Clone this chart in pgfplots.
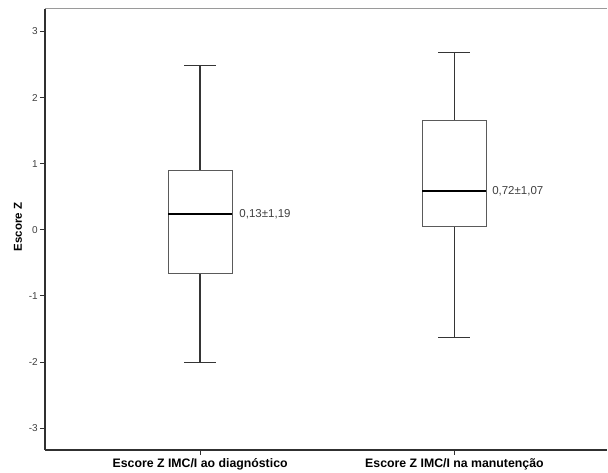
\documentclass[border=0pt]{standalone}
\usepackage{fontspec}
\setmainfont{Liberation Sans}
\usepackage{pgfplots}
\pgfplotsset{compat=1.18}
\usepgfplotslibrary{statistics}
\definecolor{axisc}{HTML}{303030}
\definecolor{boxc}{HTML}{5A5A5A}
\definecolor{whc}{HTML}{353535}
\definecolor{topc}{HTML}{9A9A9A}
\definecolor{tickc}{HTML}{404040}
\begin{document}
\begin{tikzpicture}
\begin{axis}[
  scale only axis, width=562pt, height=441pt,
  xmin=0.39, xmax=2.6, ymin=-3.33, ymax=3.34,
  axis lines=left, axis line style={-, draw=axisc, line width=1.1pt},
  xtick={1,2}, xticklabels={Escore Z IMC/I ao diagnóstico, Escore Z IMC/I na manutenção},
  ytick={-3,-2,-1,0,1,2,3}, yticklabels={-3,-2,-1,0,1,2,3},
  tick align=outside, major tick length=5pt,
  tick style={draw=axisc, line width=0.9pt},
  yticklabel style={font=\fontsize{10}{12}\selectfont, text=tickc, inner sep=2pt},
  xticklabel style={font=\bfseries\fontsize{12.3}{14}\selectfont, text=black, inner sep=3.5pt},
  ylabel={Escore Z},
  ylabel style={font=\bfseries\fontsize{11.5}{13}\selectfont, at={(axis description cs:-0.048,0.506)}, anchor=center},
  clip=false,
  boxplot/draw direction=y,
  boxplot/every box/.style={draw=boxc, line width=1.1pt},
  boxplot/every whisker/.style={draw=whc, line width=1.5pt},
  boxplot/every median/.style={draw=black, line width=2pt},
]
\draw[topc, line width=1pt] (rel axis cs:0,1) -- (rel axis cs:1,1);
\addplot[boxplot prepared={median=0.242, upper quartile=0.897, lower quartile=-0.655,
  upper whisker=2.485, lower whisker=-2.01, draw position=1, box extend=0.252, whisker extend=0.126}]
  coordinates {};
\addplot[boxplot prepared={median=0.59, upper quartile=1.65, lower quartile=0.05,
  upper whisker=2.68, lower whisker=-1.63, draw position=2, box extend=0.252, whisker extend=0.126}]
  coordinates {};
\node[anchor=west, font=\fontsize{11.5}{13}\selectfont, text=tickc, inner sep=0pt] at (axis cs:1.154,0.242) {0,13±1,19};
\node[anchor=west, font=\fontsize{11.5}{13}\selectfont, text=tickc, inner sep=0pt] at (axis cs:2.148,0.59) {0,72±1,07};
\end{axis}
\pgfresetboundingbox
\path ([shift={(-45pt,-23pt)}]current axis.south west) rectangle ([shift={(1pt,9pt)}]current axis.north east);
\end{tikzpicture}
\end{document}
